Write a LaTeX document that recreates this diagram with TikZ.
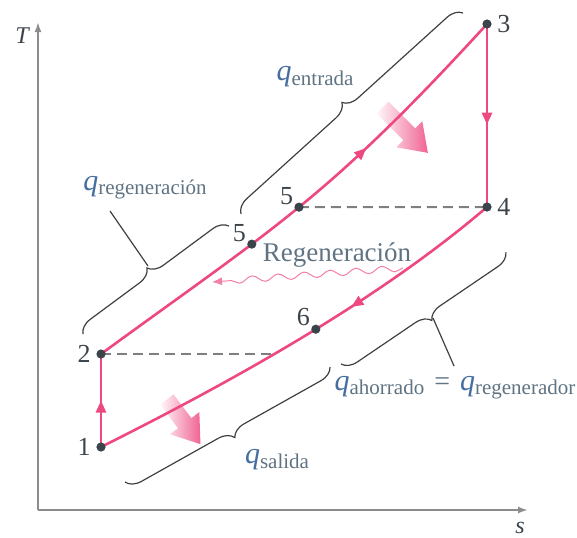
\documentclass[tikz,border=0pt]{standalone}
\usepackage{fontspec}
\setmainfont{Liberation Serif}
\usetikzlibrary{arrows.meta, positioning, shapes.arrows, decorations.pathreplacing, decorations.pathmorphing, decorations.markings}

\definecolor{cyc}{RGB}{238,72,128}
\definecolor{qblue}{RGB}{70,110,160}
\definecolor{subgray}{RGB}{95,115,130}
\definecolor{numgray}{RGB}{60,68,75}
\definecolor{axgray}{RGB}{140,140,140}

\newcommand{\qlab}[1]{{\fontsize{15}{16}\selectfont\color{qblue}\textit{q}}\raisebox{-0.45ex}{\fontsize{10.5}{11}\selectfont\color{subgray}#1}}

\begin{document}
\begin{tikzpicture}[
    x=0.5pt, y=-0.5pt,
    state/.style={circle, fill=numgray, inner sep=0pt, minimum size=4.6pt},
    num/.style={font=\fontsize{13}{14}\selectfont, text=numgray, inner sep=1pt},
    proc/.style={cyc, line width=1.3pt},
    midarr/.style={postaction={decorate}, decoration={markings, mark=at position #1 with {\arrow{Triangle[length=6pt,width=5pt]}}}},
    dsh/.style={axgray!90!black, line width=1pt, dash pattern=on 5pt off 3pt},
    brc/.style={decorate, decoration={brace, amplitude=7.5pt}, draw=black!75, line width=0.6pt},
    brcm/.style={decorate, decoration={brace, mirror, amplitude=7.5pt}, draw=black!75, line width=0.6pt},
    lead/.style={draw=black!75, line width=0.6pt},
    axis/.style={axgray, line width=1pt, -{Latex[length=5pt,width=3.5pt]}},
    fatarr/.style={single arrow, draw=none, inner sep=4pt, single arrow head extend=5pt, single arrow tip angle=70, left color=cyc!4, right color=cyc!85},
    wave/.style={cyc!70, line width=0.5pt, decorate, decoration={snake, amplitude=1.6pt, segment length=13pt, post length=5pt}, -{Latex[length=5pt,width=4pt]}}
]
\useasboundingbox (0,0) rectangle (577,537);

% axes
\coordinate (o) at (38,510);
\coordinate (tT) at (38,22);
\coordinate (ts) at (528,510);
\draw[axis] (o) -- (tT);
\draw[axis] (o) -- (ts);
\node[font=\fontsize{12}{13}\selectfont\itshape, text=numgray] (lT) at (22,36) {T};
\node[font=\fontsize{12}{13}\selectfont\itshape, text=numgray] (ls) at (520,528) {s};

% states
\coordinate (p1) at (101,447);
\coordinate (p2) at (101,354);
\coordinate (p3) at (487,24);
\coordinate (p4) at (487,207);

% heat arrows
\node[fatarr, minimum height=32pt, rotate=-45] (h1) at (401,126) {};
\node[fatarr, minimum height=28pt, rotate=-53] (h2) at (180,417) {};

% process lines
\path (p2) .. controls (273.8,227.9) and (327.5,198.5) .. (p3)
  coordinate[pos=0.36] (p5) coordinate[pos=0.5] (p5b);
\path (p4) .. controls (378,300.5) and (231,382) .. (p1)
  coordinate[pos=0.465] (p6) coordinate[pos=0.57] (x2);
\draw[dsh] (p5b) -- (p4);
\draw[dsh] (p2) -- (p2 -| x2);
\draw[proc, midarr=0.66] (p2) .. controls (273.8,227.9) and (327.5,198.5) .. (p3);
\draw[proc, midarr=0.37] (p4) .. controls (378,300.5) and (231,382) .. (p1);
\draw[proc, midarr=0.55] (p3) -- (p4);
\draw[proc, midarr=0.5] (p1) -- (p2);

% regeneration
\coordinate (w1) at (403,268);
\coordinate (w2) at (212,282);
\draw[wave] (w1) -- (w2);
\node[font=\fontsize{13.5}{14}\selectfont, text=subgray] (rg) at (337,255) {Regeneración};

% dots and numbers
\node[state] (s1) at (p1) {};
\node[state] (s2) at (p2) {};
\node[state] (s3) at (p3) {};
\node[state] (s4) at (p4) {};
\node[state] (s5) at (p5) {};
\node[state] (s5b) at (p5b) {};
\node[state] (s6) at (p6) {};
\node[num, left=1.5pt of s1] (l1) {1};
\node[num, left=1.5pt of s2] (l2) {2};
\node[num, right=1.5pt of s3] (l3) {3};
\node[num, right=1.5pt of s4] (l4) {4};
\node[num, above left=-2pt and 0pt of s5] (l5) {5};
\node[num, above left=-2pt and 0pt of s5b] (l5b) {5};
\node[num, above left=-1pt and 0pt of s6] (l6) {6};

% braces
\coordinate (ea) at (241,214);
\coordinate (eb) at (463,13);
\draw[brc] (ea) -- (eb);
\node (qe) at (315,77) {\qlab{entrada}};

\coordinate (ra) at (83,334);
\coordinate (rb) at (229,226);
\draw[brc] (ra) -- (rb);
\node (qr) at (145,188) {\qlab{regeneración}};
\coordinate (rtip) at (148,266);
\coordinate (rend) at (110,211);
\draw[lead] (rend) -- (rtip);

\coordinate (aa) at (341,364);
\coordinate (ab) at (506,252);
\draw[brcm] (aa) -- (ab);
\coordinate (atip) at (433,318);
\coordinate (aend) at (454,366);
\draw[lead] (atip) -- (aend);
\node (qa) at (455,388) {\qlab{ahorrado}\enspace{\fontsize{14}{15}\selectfont\color{subgray}=}\enspace\qlab{regenerador}};

\coordinate (sa) at (125,482);
\coordinate (sb) at (330,367);
\draw[brcm] (sa) -- (sb);
\node (qs) at (277,460) {\qlab{salida}};
\end{tikzpicture}
\end{document}
